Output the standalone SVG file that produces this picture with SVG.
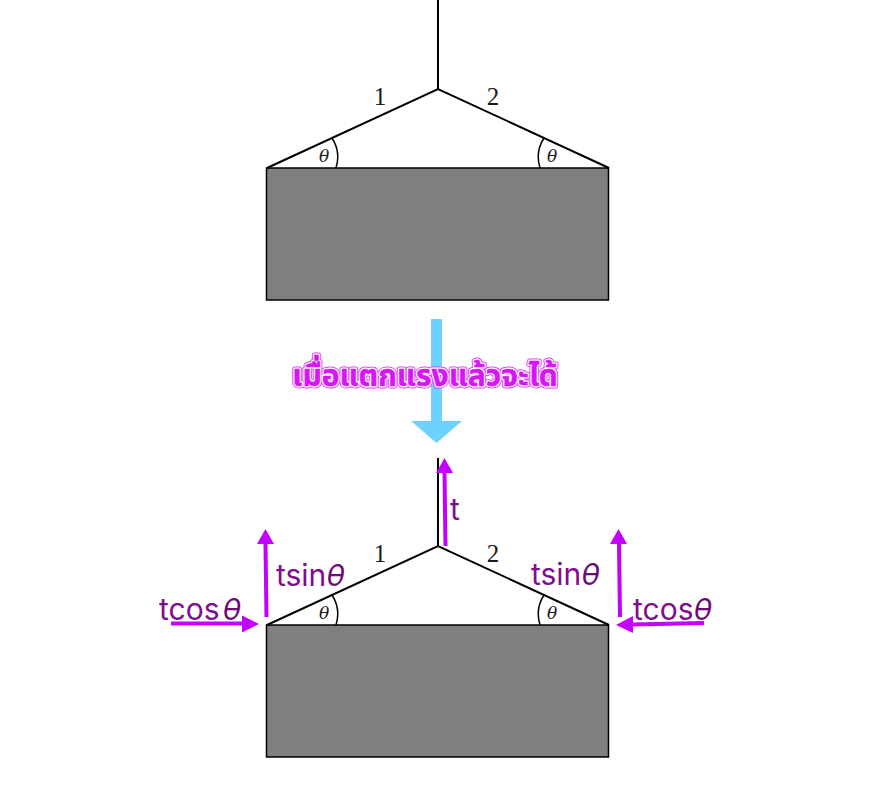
<svg xmlns="http://www.w3.org/2000/svg" width="887" height="786" viewBox="0 0 887 786">
<style>
.ln{fill:none;stroke:#000;stroke-width:2}
.arc{fill:none;stroke:#000;stroke-width:1.5}
.box{fill:#7f7f7f;stroke:#000;stroke-width:1.5}
.n{font-family:"Liberation Serif",serif;font-size:25px;fill:#1a1a1a;text-anchor:middle}
.th{font-family:"DejaVu Serif","Liberation Serif",serif;font-style:italic;font-size:17px;fill:#1a1a1a;text-anchor:middle}
.f{font-family:Inter,"Liberation Sans",sans-serif;font-size:30px;fill:#800d8f}
.f tspan{font-style:italic;fill:#6c0a78}
.a{fill:none;stroke:#c400ff;stroke-width:4}
.h{fill:#c400ff}
.m{font-family:"Noto Sans","Noto Sans Thai",Loma,"DejaVu Sans",sans-serif;font-size:30px;font-weight:700;text-anchor:middle;stroke-linejoin:round}
</style>
<rect width="887" height="786" fill="#fff"/>
<g id="top-figure">
<rect class="box" x="266.500" y="168" width="342" height="132"/>
<path class="ln" d="M438 0V89M267 168L438 89L609 168"/>
<path class="arc" d="M332 138Q341 152 336 168M544 138Q535 152 540 168"/>
<text class="n" x="380" y="105">1</text><text class="n" x="493" y="105">2</text>
<text class="th" x="324" y="162">θ</text><text class="th" x="552" y="162">θ</text>
</g>
<g id="bottom-figure">
<rect class="box" x="266.500" y="625" width="342" height="132"/>
<path class="ln" d="M438 458V546M267 625L438 546L609 625"/>
<path class="arc" d="M332 595Q341 609 336 625M544 595Q535 609 540 625"/>
<text class="n" x="380" y="562">1</text><text class="n" x="493" y="562">2</text>
<text class="th" x="324" y="619">θ</text><text class="th" x="552" y="619">θ</text>
</g>
<g id="connectors">
<path d="M431 319H442V421H462L436.500 443L411 421H431Z" fill="#6dd2ff"/>
<path class="a" d="M445.500 546L444.500 472"/><path class="h" d="M444.500 458L453 473H436Z"/>
<path class="a" d="M266.500 617L265.500 544"/><path class="h" d="M265.500 529L274 544H257Z"/>
<path class="a" d="M620 617L619 544"/><path class="h" d="M618.500 529L627 544H610Z"/>
<path class="a" d="M171 623.500H244"/><path class="h" d="M259 624L242 632.500V615.500Z"/>
<path class="a" d="M704 623L631 624.500"/><path class="h" d="M616 625L633 616V633Z"/>
</g>
<g id="label-main">
<text class="m" x="425" y="386" fill="#e23bfa" stroke="#e23bfa" stroke-width="5">เมื่อแตกแรงแล้วจะได้</text>
<text class="m" x="425" y="386" fill="#fff" stroke="#fff" stroke-width="3">เมื่อแตกแรงแล้วจะได้</text>
<text class="m" x="425" y="386" fill="#d816f5" stroke="#d816f5" stroke-width=".5">เมื่อแตกแรงแล้วจะได้</text>
</g>
<g id="labels">
<text class="f" x="450" y="520">t</text>
<text class="f" x="276" y="586">tsin<tspan>θ</tspan></text>
<text class="f" x="531" y="585">tsin<tspan>θ</tspan></text>
<text class="f" x="159" y="620">tcos<tspan dx="3">θ</tspan></text>
<text class="f" x="633" y="620">tcos<tspan>θ</tspan></text>
</g>
</svg>
